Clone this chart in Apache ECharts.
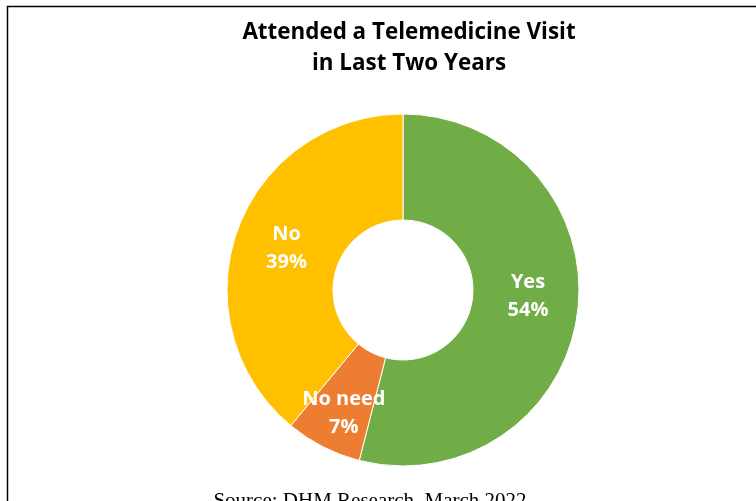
<!DOCTYPE html>
<html>
<head>
<meta charset="utf-8">
<style>
  html, body { margin: 0; padding: 0; background: #ffffff; }
  #chart { width: 756px; height: 501px; }
</style>
<script src="https://cdn.jsdelivr.net/npm/echarts@6/dist/echarts.min.js"></script>
</head>
<body>
<div id="chart"></div>
<script>
// Survey responses: attended a telemedicine visit in the last two years
const categories = ['Yes', 'No need', 'No'];
const shares = [54, 7, 39];
const sliceColors = ['#70AD47', '#ED7D31', '#FFC000'];

const chartTitle = 'Attended a Telemedicine Visit\nin Last Two Years';
const sourceNote = 'Source: DHM Research, March 2022';

// Nudges for the in-slice labels (pixels, x/y)
const labelNudges = [[0, -9], [-2, 11], [2, 1]];

const chart = echarts.init(document.getElementById('chart'), null, { renderer: 'canvas' });

const pieData = categories.map((name, i) => ({
  name: name,
  value: shares[i],
  itemStyle: { color: sliceColors[i] },
  label: { offset: labelNudges[i] }
}));

chart.setOption({
  backgroundColor: '#ffffff',
  animation: false,
  title: {
    text: chartTitle,
    left: 404,
    textAlign: 'center',
    top: 12,
    textStyle: {
      fontFamily: 'Open Sans',
      fontWeight: 'bold',
      fontSize: 22.4,
      lineHeight: 31,
      color: '#000000'
    }
  },
  graphic: [
    {
      type: 'rect',
      shape: { x: 7.5, y: 6.5, width: 800, height: 600 },
      style: { fill: 'none', stroke: '#000000', lineWidth: 1.5 },
      silent: true
    },
    {
      type: 'text',
      x: 370,
      y: 501,
      style: {
        text: sourceNote,
        fontFamily: 'Liberation Serif',
        fontSize: 21,
        fill: '#000000',
        align: 'center',
        verticalAlign: 'middle'
      },
      silent: true
    }
  ],
  series: [
    {
      type: 'pie',
      center: [403, 290],
      radius: [70, 176],
      startAngle: 90,
      clockwise: true,
      avoidLabelOverlap: false,
      itemStyle: { borderColor: '#ffffff', borderWidth: 1 },
      label: {
        show: true,
        position: 'inside',
        formatter: '{b}\n{c}%',
        fontFamily: 'Open Sans',
        fontWeight: 'bold',
        fontSize: 20,
        lineHeight: 28,
        color: '#ffffff'
      },
      labelLine: { show: false },
      emphasis: { disabled: true },
      data: pieData
    }
  ]
});
</script>
</body>
</html>
